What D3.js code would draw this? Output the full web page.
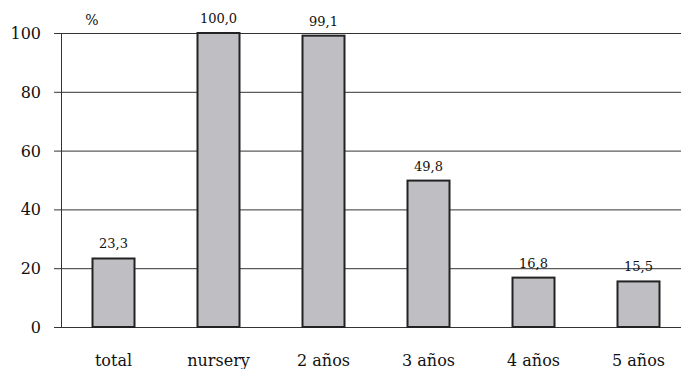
<!DOCTYPE html>
<html><head><meta charset="utf-8">
<script src="https://cdn.jsdelivr.net/npm/d3@7"></script>
<style>body{margin:0;background:#fff}svg{display:block}text{font-family:"DejaVu Serif",serif;fill:#111}</style>
</head><body>
<svg id="c" width="681" height="369"></svg>
<script>
const categories = ["total","nursery","2 años","3 años","4 años","5 años"];
const values = [23.3,100.0,99.1,49.8,16.8,15.5];
const labels = ["23,3","100,0","99,1","49,8","16,8","15,5"];
const yTicks = [0,20,40,60,80,100];

const svg = d3.select("#c");
const plotLeft = 61, plotTop = 33, plotBottom = 327;
const x = d3.scaleBand().domain(categories).range([plotLeft, plotLeft + 630]).paddingInner(0.6).paddingOuter(0.3);
const y = d3.scaleLinear().domain([0,100]).range([plotBottom, plotTop]);

// gridlines
svg.append("g").selectAll("line").data(yTicks).join("line")
  .attr("x1", plotLeft - 7).attr("x2", 681)
  .attr("y1", d => y(d) + 0.5).attr("y2", d => y(d) + 0.5)
  .attr("stroke", "#333").attr("stroke-width", 1);
// y axis line
svg.append("line").attr("x1", plotLeft + 0.5).attr("x2", plotLeft + 0.5)
  .attr("y1", y(100)).attr("y2", y(0)).attr("stroke", "#333");
// tick labels
svg.append("g").selectAll("text").data(yTicks).join("text")
  .attr("x", 41).attr("y", d => y(d) + 6).attr("text-anchor", "end")
  .style("font-size", "16px").text(d => d);
// bars
svg.append("g").selectAll("rect").data(values).join("rect")
  .attr("x", (d,i) => x(categories[i]))
  .attr("y", d => y(d))
  .attr("width", x.bandwidth())
  .attr("height", d => y(0) - y(d))
  .attr("fill", "#bfbfc3").attr("stroke", "#222").attr("stroke-width", 2);
// value labels
svg.append("g").selectAll("text").data(values).join("text")
  .attr("x", (d,i) => x(categories[i]) + x.bandwidth()/2)
  .attr("y", d => y(d) - 10).attr("text-anchor", "middle")
  .style("font-size", "13px").text((d,i) => labels[i]);
// category labels
svg.append("g").selectAll("text").data(categories).join("text")
  .attr("x", d => x(d) + x.bandwidth()/2).attr("y", 366).attr("text-anchor", "middle")
  .style("font-size", "16px").text(d => d);
// unit
svg.append("text").attr("x", 92).attr("y", 25).attr("text-anchor", "middle")
  .style("font-size", "14px").text("%");
</script>
</body></html>
